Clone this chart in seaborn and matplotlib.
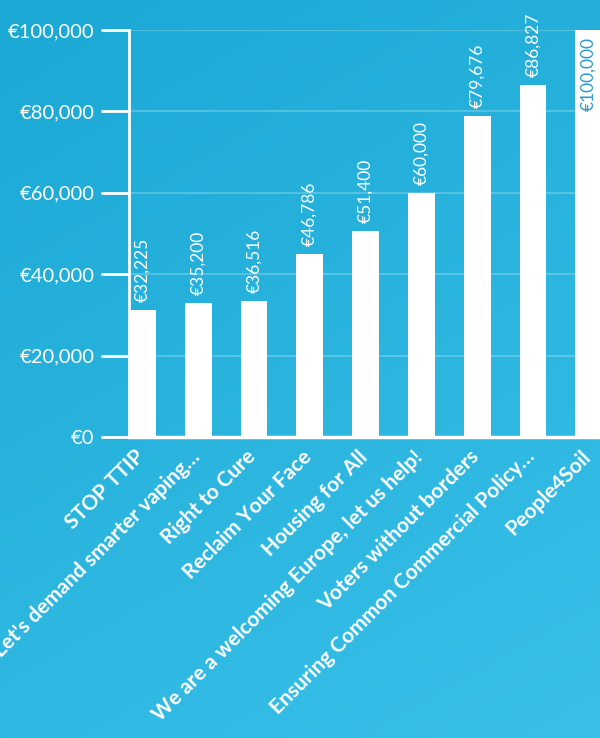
import numpy as np
import pandas as pd
import matplotlib.pyplot as plt
import matplotlib.colors as mcolors
import matplotlib.transforms as mtransforms
import seaborn as sns

# initiatives and money raised (label text) + bar heights as drawn
initiatives = ["STOP TTIP", "Let's demand smarter vaping…", "Right to Cure",
               "Reclaim Your Face", "Housing for All",
               "We are a welcoming Europe, let us help!", "Voters without borders",
               "Ensuring Common Commercial Policy…", "People4Soil"]
raised = [32225, 35200, 36516, 46786, 51400, 60000, 79676, 86827, 100000]
bar_heights = [31200, 32800, 33400, 45000, 50600, 60000, 78900, 86500, 100000]
yticks = [0, 20000, 40000, 60000, 80000, 100000]

df = pd.DataFrame({"initiative": initiatives, "height": bar_heights})

sns.set_theme(style="white")
plt.rcParams['font.family'] = ['Lato', 'DejaVu Sans']

fig = plt.figure(figsize=(6, 7.38), dpi=100)

# gradient background
bg = fig.add_axes([0, 0, 1, 1], zorder=-1)
yy, xx = np.mgrid[0:1:200j, 0:1:200j]
t = 0.75 * yy + 0.35 * xx
t = t / t.max()
cmap = mcolors.LinearSegmentedColormap.from_list("bg", ["#1ba8d5", "#38c0e8"])
bg.imshow(t, cmap=cmap, aspect="auto", extent=[0, 1, 0, 1], origin="upper")
bg.axis("off")

ax = fig.add_axes([0.215, 0.4079, 0.785, 0.5515])
ax.set_facecolor("none")
sns.barplot(data=df, x="initiative", y="height", color="white", width=0.48,
            saturation=1, ax=ax, zorder=3)
for p in ax.patches:
    p.set_edgecolor("none")

ax.set_xlim(-0.24, 8.2)
ax.set_ylim(0, 100000)
ax.set_xlabel("")
ax.set_ylabel("")

for y in yticks[1:]:
    ax.axhline(y, color="white", alpha=0.22, lw=1.5, zorder=1)

ax.set_yticks(yticks)
ax.set_yticklabels([f"€{v:,}" for v in yticks], color="white", fontsize=14.5)
ax.tick_params(axis="y", direction="out", length=20, width=2, color="white", pad=5,
               left=True)
ax.tick_params(axis="x", length=0, pad=7)
ax.set_xticks(range(len(initiatives)))
ax.set_xticklabels(initiatives, rotation=45, ha="right", rotation_mode="anchor",
                   color="white", fontsize=15, fontweight="bold")
# nudge the slanted labels a little to the left
shift = mtransforms.ScaledTranslation(-6 / 72, 0, fig.dpi_scale_trans)
for lab in ax.get_xticklabels():
    lab.set_transform(lab.get_transform() + shift)

for s in ["top", "right"]:
    ax.spines[s].set_visible(False)
ax.spines["left"].set_color("white")
ax.spines["left"].set_linewidth(2)
ax.spines["bottom"].set_color("white")
ax.spines["bottom"].set_linewidth(2.5)
ax.spines["bottom"].set_zorder(4)

for i, (h, v) in enumerate(zip(bar_heights, raised)):
    if h >= 95000:
        ax.text(i, h - 1800, f"€{v:,}", rotation=90, ha="center", va="top",
                color="#2a9bd0", fontsize=12.5, zorder=5)
    else:
        ax.text(i, h + 2000, f"€{v:,}", rotation=90, ha="center", va="bottom",
                color="white", fontsize=12.5, zorder=5, clip_on=False)

fig.savefig("out.png", dpi=100)
